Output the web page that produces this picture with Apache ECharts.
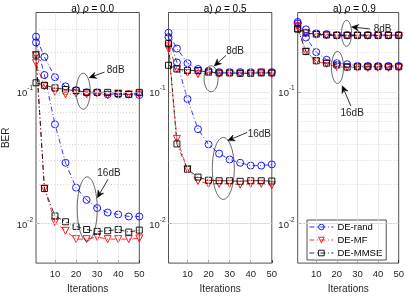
<!DOCTYPE html>
<html><head><meta charset="utf-8">
<script src="https://cdn.jsdelivr.net/npm/echarts@6/dist/echarts.min.js"></script>
<style>html,body{margin:0;padding:0;background:#fff}#c{width:407px;height:299px}</style>
</head><body><div id="c"></div>
<script>
// ---------- data ----------
const iters = [1, 5, 10, 15, 20, 25, 30, 35, 40, 45, 50];
const panelTitles = ['0.0', '0.5', '0.9'];
const seriesNames = ['DE-rand', 'DE-MF', 'DE-MMSE'];
const xTicks = [10, 20, 30, 40, 50];
const yTicks = [0.01, 0.1];
const yMinor = [0.006, 0.007, 0.008, 0.009, 0.02, 0.03, 0.04, 0.05, 0.06, 0.07, 0.08, 0.09, 0.2, 0.3];

// panel 1 (rho = 0.0)
const p1_rand_8  = [0.262, 0.184, 0.129, 0.110, 0.103, 0.099, 0.099, 0.0955, 0.0955, 0.0955, 0.0944];
const p1_mf_8    = [0.165, 0.110, 0.100, 0.0955, 0.097, 0.0955, 0.097, 0.0944, 0.097, 0.0955, 0.0955];
const p1_mmse_8  = [0.117, 0.112, 0.107, 0.104, 0.102, 0.099, 0.099, 0.099, 0.097, 0.0955, 0.099];
const p1_rand_16 = [0.237, 0.134, 0.0566, 0.0289, 0.0187, 0.0151, 0.0131, 0.0121, 0.0117, 0.0113, 0.0113];
const p1_mf_16   = [0.190, 0.0184, 0.0102, 0.0088, 0.0076, 0.0076, 0.0079, 0.0076, 0.0076, 0.0076, 0.0077];
const p1_mmse_16 = [0.190, 0.0184, 0.0114, 0.0103, 0.0095, 0.0090, 0.0087, 0.0088, 0.0090, 0.0086, 0.0089];
// panel 2 (rho = 0.5)
const p2_rand_8  = [0.281, 0.213, 0.165, 0.149, 0.144, 0.141, 0.141, 0.141, 0.141, 0.141, 0.141];
const p2_mf_8    = [0.221, 0.149, 0.139, 0.136, 0.140, 0.137, 0.137, 0.138, 0.138, 0.140, 0.137];
const p2_mmse_8  = [0.159, 0.149, 0.145, 0.145, 0.141, 0.139, 0.139, 0.138, 0.138, 0.139, 0.139];
const p2_rand_16 = [0.260, 0.167, 0.0881, 0.0520, 0.0398, 0.0339, 0.0306, 0.0289, 0.0275, 0.0275, 0.0281];
const p2_mf_16   = [0.212, 0.0439, 0.0258, 0.0210, 0.0200, 0.0200, 0.0200, 0.0197, 0.0200, 0.0200, 0.0195];
const p2_mmse_16 = [0.232, 0.0402, 0.0258, 0.0225, 0.0213, 0.0211, 0.0211, 0.0209, 0.0211, 0.0211, 0.0210];
// panel 3 (rho = 0.9)
const p3_rand_8  = [0.339, 0.298, 0.278, 0.274, 0.270, 0.270, 0.270, 0.270, 0.270, 0.270, 0.270];
const p3_mf_8    = [0.315, 0.280, 0.270, 0.268, 0.266, 0.266, 0.266, 0.266, 0.266, 0.266, 0.266];
const p3_mmse_8  = [0.300, 0.280, 0.274, 0.270, 0.268, 0.268, 0.268, 0.268, 0.268, 0.268, 0.268];
const p3_rand_16 = [0.330, 0.258, 0.200, 0.175, 0.165, 0.162, 0.157, 0.157, 0.157, 0.157, 0.157];
const p3_mf_16   = [0.310, 0.202, 0.170, 0.163, 0.154, 0.154, 0.152, 0.152, 0.152, 0.152, 0.152];
const p3_mmse_16 = [0.300, 0.202, 0.172, 0.165, 0.160, 0.154, 0.155, 0.155, 0.155, 0.155, 0.155];

const panels = [
  [p1_rand_8, p1_mf_8, p1_mmse_8, p1_rand_16, p1_mf_16, p1_mmse_16],
  [p2_rand_8, p2_mf_8, p2_mmse_8, p2_rand_16, p2_mf_16, p2_mmse_16],
  [p3_rand_8, p3_mf_8, p3_mmse_8, p3_rand_16, p3_mf_16, p3_mmse_16]
];

// annotations in data coordinates: [panel, label, ellipse centre x, y, rx, ry, text x, y, arrow from x, y, arrow to x, y]
const annotations = [
  [0, '8dB', 23.4, 0.101, 7, 18, 38.8, 0.145, 33.5, 0.141, 26.2, 0.128],
  [0, '16dB', 25.3, 0.0129, 10, 32, 35.6, 0.0241, 35.2, 0.0217, 30.1, 0.0157],
  [1, '8dB', 21.2, 0.1255, 7, 13, 32.6, 0.203, 28.3, 0.189, 22.7, 0.157],
  [1, '16dB', 27.0, 0.0262, 11, 31, 44.1, 0.0477, 38.3, 0.0491, 29.1, 0.0426],
  [2, '8dB', 24.7, 0.278, 5, 13, 42.2, 0.299, 36.0, 0.300, 27.1, 0.311],
  [2, '16dB', 20.3, 0.153, 6, 16, 27.4, 0.069, 26.8, 0.0778, 22.6, 0.111]
];

// ---------- styling ----------
const FONT = 'Liberation Sans, Arial, Helvetica, sans-serif';
const gridLefts = [36, 168.5, 297.7];
const gridW = 103.3, gridTop = 12.5, gridH = 256.5;
const colors = ['#0000ff', '#ff0000', '#000000'];
const symbols = ['circle', 'triangle', 'rect'];
const symRot = [0, 180, 0];
const symSize = [7, 7, 6];
const dash = [5, 2.5, 1, 2.5];

const chart = echarts.init(document.getElementById('c'), null, {renderer: 'canvas'});

const grids = [], xAxes = [], yAxes = [], series = [], titles = [];
for (let p = 0; p < 3; p++) {
  grids.push({left: gridLefts[p], top: gridTop, width: gridW, height: gridH, show: true,
    borderColor: '#262626', borderWidth: 0.8, backgroundColor: 'transparent', containLabel: false});
  xAxes.push({type: 'value', gridIndex: p, min: 1, max: 50,
    name: 'Iterations', nameLocation: 'middle', nameGap: 17,
    nameTextStyle: {fontFamily: FONT, fontSize: 10, color: '#262626'},
    axisLine: {show: false},
    axisTick: {show: true, inside: true, length: 3, customValues: xTicks, lineStyle: {color: '#262626', width: 0.8}},
    axisLabel: {customValues: xTicks, fontFamily: FONT, fontSize: 9.5, color: '#262626', margin: 6},
    splitLine: {show: false}});
  yAxes.push({type: 'log', logBase: 10, gridIndex: p, min: 0.005, max: 0.4,
    name: p === 0 ? 'BER' : '', nameLocation: 'middle', nameGap: 25,
    nameTextStyle: {fontFamily: FONT, fontSize: 10, color: '#262626'},
    axisLine: {show: false},
    axisTick: {show: true, inside: true, length: 3, customValues: yTicks, lineStyle: {color: '#262626', width: 0.8}},
    axisLabel: {customValues: yTicks, margin: 3, fontFamily: FONT, color: '#262626',
      formatter: v => (Math.abs(v - 0.1) < 1e-9 ? '{b|10}{s|-1}' : '{b|10}{s|-2}'),
      rich: {b: {fontSize: 9.5, fontFamily: FONT, color: '#262626', verticalAlign: 'bottom', lineHeight: 14},
             s: {fontSize: 6.5, fontFamily: FONT, color: '#262626', verticalAlign: 'top', lineHeight: 14}}},
    splitLine: {show: false}});
  titles.push({text: 'a) {i|ρ} = ' + panelTitles[p], left: gridLefts[p] + gridW / 2, top: -1, textAlign: 'center',
    textStyle: {fontFamily: FONT, fontSize: 10, fontWeight: 'normal', color: '#000',
      rich: {i: {fontFamily: FONT, fontSize: 10, fontStyle: 'italic', color: '#000'}}}});
  // grid lines
  const mlData = [];
  yMinor.forEach(v => mlData.push({yAxis: v, lineStyle: {type: [1, 2], color: '#bdbdbd', width: 0.6}}));
  yTicks.forEach(v => mlData.push({yAxis: v, lineStyle: {type: 'solid', color: '#e0e0e0', width: 0.6}}));
  xTicks.slice(0, 4).forEach(v => mlData.push({xAxis: v, lineStyle: {type: 'solid', color: '#e0e0e0', width: 0.6}}));
  series.push({type: 'line', name: 'grid' + p, xAxisIndex: p, yAxisIndex: p, data: [], z: 1, silent: true,
    markLine: {silent: true, symbol: 'none', label: {show: false}, animation: false, data: mlData}});
  panels[p].forEach((vals, k) => {
    const c = k % 3;
    series.push({type: 'line', name: seriesNames[c], xAxisIndex: p, yAxisIndex: p, z: 3,
      data: iters.map((x, i) => [x, vals[i]]),
      symbol: symbols[c], symbolSize: symSize[c], symbolRotate: symRot[c], showSymbol: true,
      lineStyle: {color: colors[c], width: 0.8, type: dash},
      itemStyle: {color: 'rgba(255,255,255,0)', borderColor: colors[c], borderWidth: 0.9},
      emphasis: {disabled: true}});
  });
}

chart.setOption({
  animation: false,
  backgroundColor: '#fff',
  title: titles,
  grid: grids, xAxis: xAxes, yAxis: yAxes, series: series,
  legend: {data: seriesNames, orient: 'vertical', left: 307, top: 220, padding: [2, 4, 2, 2], itemGap: 3,
    itemWidth: 24, itemHeight: 7, backgroundColor: '#fff', borderColor: '#262626', borderWidth: 0.8, borderRadius: 0,
    itemStyle: {color: 'rgba(255,255,255,0)', borderWidth: 0.9},
    lineStyle: {width: 0.8},
    textStyle: {fontFamily: FONT, fontSize: 9.5, color: '#000', padding: [0, 0, 0, -1]}, selectedMode: false}
});

// annotations (ellipses, arrows, text) anchored through the axes' scales
const gfx = [];
annotations.forEach(a => {
  const [p, label, ex, ey, rx, ry, tx, ty, ax0, ay0, ax1, ay1] = a;
  const c = chart.convertToPixel({gridIndex: p}, [ex, ey]);
  const t = chart.convertToPixel({gridIndex: p}, [tx, ty]);
  const s = chart.convertToPixel({gridIndex: p}, [ax0, ay0]);
  const e = chart.convertToPixel({gridIndex: p}, [ax1, ay1]);
  gfx.push({type: 'ellipse', shape: {cx: c[0], cy: c[1], rx: rx, ry: ry}, z: 10,
    style: {fill: 'none', stroke: '#262626', lineWidth: 0.7}});
  gfx.push({type: 'text', z: 10, style: {text: label, x: t[0], y: t[1], align: 'center', verticalAlign: 'middle',
    font: '10px ' + FONT, fill: '#262626'}});
  const dx = e[0] - s[0], dy = e[1] - s[1], L = Math.hypot(dx, dy), ux = dx / L, uy = dy / L;
  const hl = 7, hw = 3.2;
  const bx = e[0] - ux * hl, by = e[1] - uy * hl;
  const nx = e[0] - ux * hl * 0.7, ny = e[1] - uy * hl * 0.7;
  gfx.push({type: 'line', z: 10, shape: {x1: s[0], y1: s[1], x2: nx, y2: ny}, style: {stroke: '#000', lineWidth: 0.8}});
  gfx.push({type: 'polygon', z: 10, shape: {points: [[e[0], e[1]], [bx - uy * hw, by + ux * hw], [nx, ny], [bx + uy * hw, by - ux * hw]]},
    style: {fill: '#000', stroke: '#000', lineWidth: 0.5}});
});
chart.setOption({graphic: gfx});
</script></body></html>
